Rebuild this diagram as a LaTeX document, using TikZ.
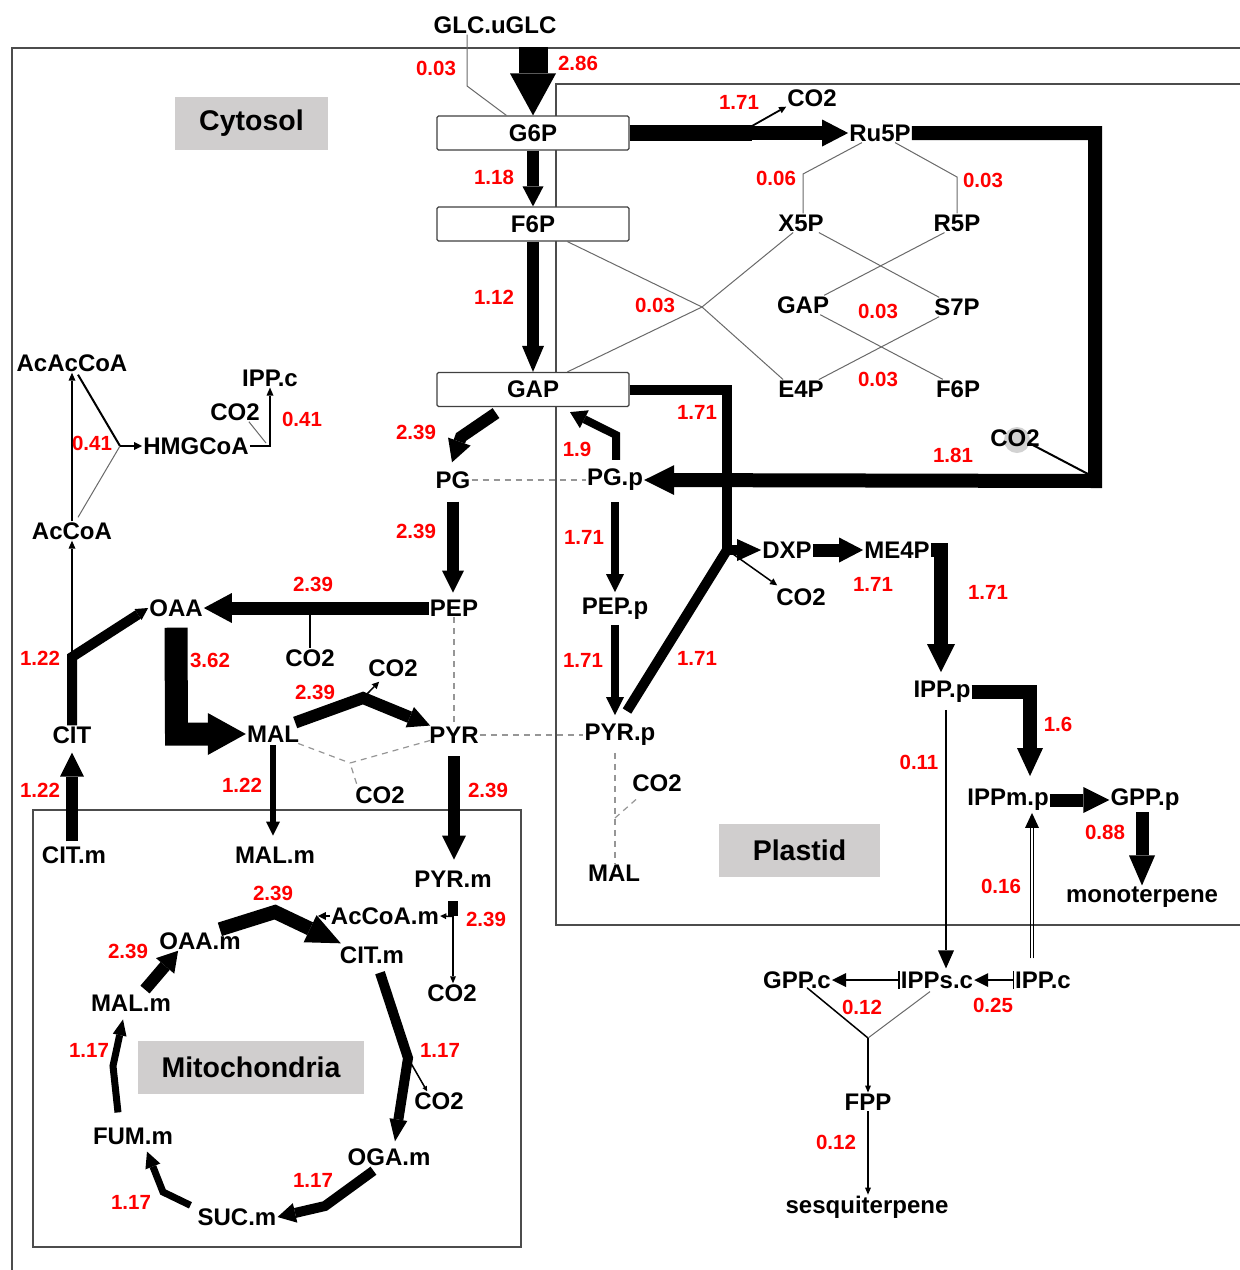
\documentclass[tikz,border=0pt]{standalone}
\usepackage{fontspec}
\setmainfont{Liberation Sans}
\usetikzlibrary{arrows.meta,calc}
\definecolor{boxgray}{RGB}{208,206,206}
\definecolor{numred}{RGB}{255,0,0}
\definecolor{thingray}{RGB}{105,105,105}
\definecolor{dashgray}{RGB}{150,150,150}
\begin{document}
\begin{tikzpicture}[x=1pt,y=-1pt,
  met/.style={font=\fontsize{24}{28}\selectfont\bfseries, inner sep=1pt},
  num/.style={font=\fontsize{20.5}{24}\selectfont\bfseries, text=numred, inner sep=0pt},
  comp/.style={fill=boxgray, font=\fontsize{28.5}{32}\selectfont\bfseries, inner sep=0pt},
  mbox/.style={met, draw=black!75, line width=1.2pt, fill=white, minimum width=192pt, minimum height=34pt, rounded corners=1.5pt},
  thinl/.style={draw=thingray, line width=1pt},
  dsh/.style={draw=dashgray, line width=1.2pt, dash pattern=on 6pt off 5pt},
  border/.style={draw=black!70, line width=1.2pt},
  tip/.style n args={2}{-{Triangle[length=#1,width=#2,line width=0pt]}},
  bartip/.style={{Bar[width=18pt,line width=1.5pt]}-{Triangle[length=14pt,width=14pt,line width=0pt]}},
]
\useasboundingbox (0,0) rectangle (1240,1270);
\fill[white] (0,0) rectangle (1240,1270);

% compartments
\draw[border] (12,1270) -- (12,48) -- (1240,48);
\draw[border] (1240,84) -- (556,84) -- (556,925) -- (1240,925);
\draw[border] (33,810) rectangle (521,1247);
\node[comp, minimum width=153pt, minimum height=53pt] (lcyto) at (251.5,123.5) {Cytosol};
\node[comp, minimum width=161pt, minimum height=53pt] (lplast) at (799.5,850.5) {Plastid};
\node[comp, minimum width=226pt, minimum height=53pt] (lmito) at (251,1067.5) {Mitochondria};

% boxes
\node[mbox] (g6p) at (533,133) {G6P};
\node[mbox] (f6p) at (533,224) {F6P};
\node[mbox] (gap) at (533,389.5) {GAP};

% metabolites
\node[met] (glc) at (495,25) {GLC.uGLC};
\node[met] (co2a) at (812,98) {CO2};
\node[met] (ru5p) at (880,133) {Ru5P};
\node[met] (x5p) at (801,223) {X5P};
\node[met] (r5p) at (957,223) {R5P};
\node[met] (gap2) at (803,305) {GAP};
\node[met] (s7p) at (957,307) {S7P};
\node[met] (e4p) at (801,389) {E4P};
\node[met] (f6p2) at (958,389) {F6P};
\fill[gray!35] (1017,440) circle (13pt);
\node[met] (co2b) at (1015,438) {CO2};
\node[met] (pg) at (453,480) {PG};
\node[met] (pgp) at (615,480) {PG.p};
\node[met] (dxp) at (787,550) {DXP};
\node[met] (me4p) at (897,550) {ME4P};
\node[met] (co2c) at (801,597) {CO2};
\node[met] (pep) at (454,608) {PEP};
\node[met] (pepp) at (615,609) {PEP.p};
\node[met] (oaa) at (176,608) {OAA};
\node[met] (co2d) at (310,658) {CO2};
\node[met] (cit) at (72,735) {CIT};
\node[met] (mal) at (273,734) {MAL};
\node[met] (pyr) at (454,735) {PYR};
\node[met] (pyrp) at (620,735) {PYR.p};
\node[met] (co2e) at (393,668) {CO2};
\node[met] (co2f) at (380,795) {CO2};
\node[met] (co2g) at (657,783) {CO2};
\node[met] (malp) at (614,873) {MAL};
\node[met] (ippp) at (942,692) {IPP.p};
\node[met] (ippmp) at (1008,800) {IPPm.p};
\node[met] (gppp) at (1145,800) {GPP.p};
\node[met] (mono) at (1142,897) {monoterpene};
\node[met] (acac) at (72,363) {AcAcCoA};
\node[met] (ippc1) at (270,378) {IPP.c};
\node[met] (co2h) at (235,412) {CO2};
\node[met] (hmg) at (196,446) {HMGCoA};
\node[met] (accoa) at (72,531) {AcCoA};
\node[met] (citm) at (74,855) {CIT.m};
\node[met] (malm) at (275,855) {MAL.m};
\node[met] (pyrm) at (453,879) {PYR.m};
\node[met] (accoam) at (385,916) {AcCoA.m};
\node[met] (citm2) at (372,955) {CIT.m};
\node[met] (oaam) at (200,941) {OAA.m};
\node[met] (co2i) at (452,993) {CO2};
\node[met] (malm2) at (131,1003) {MAL.m};
\node[met] (co2j) at (439,1101) {CO2};
\node[met] (fumm) at (133,1136) {FUM.m};
\node[met] (ogam) at (389,1157) {OGA.m};
\node[met] (sucm) at (237,1217) {SUC.m};
\node[met] (gppc) at (797,980) {GPP.c};
\node[met] (ippsc) at (937,980) {IPPs.c};
\node[met] (ippc2) at (1043,980) {IPP.c};
\node[met] (fpp) at (868,1102) {FPP};
\node[met] (sesq) at (867,1207) {sesquiterpene};

% ---------- connectors ----------
% glucose uptake
\coordinate (glcin) at (533,47);
\draw[line width=29pt, tip={42pt}{46pt}] (glcin) -- (g6p.north);
\coordinate (glcb) at (467,86);
\draw[thinl] ($(glc.south)+(-28,0)$) -- (glcb) -- ($(g6p.north west)+(70,0)$);

% G6P -> Ru5P
\coordinate (ppj) at (752,133);
\draw[line width=16pt] (g6p.east) -- (ppj);
\draw[line width=14pt, tip={26pt}{27pt}] (ppj) -- (ru5p.west);
\draw[line width=1.8pt, tip={7pt}{7pt}] ($(ppj)+(0,-7)$) -- ($(co2a.south west)+(0,-1)$);

% Ru5P loop to PG.p
\draw[line width=14pt, tip={30pt}{30pt}] (ru5p.east) -- (1095,133) -- (1095,481) -- (pgp.east);
\draw[line width=2pt] ($(co2b.east)+(-10,6)$) -- (1088,474);

% glycolysis upper
\draw[line width=12pt, tip={20pt}{21pt}] (g6p.south) -- (f6p.north);
\draw[line width=12pt, tip={26pt}{22pt}] (f6p.south) -- (gap.north);

% pentose phosphate thin lines
\coordinate (b1) at (803,174);
\coordinate (b2) at (957,177);
\draw[thinl] ($(ru5p.south)+(-18,0)$) -- (b1) -- (b1 |- x5p.north);
\draw[thinl] ($(ru5p.south)+(15,0)$) -- (b2) -- (b2 |- r5p.north);
\draw[thinl] ($(x5p.south east)+(-6,0)$) -- ($(s7p.north west)+(6,0)$);
\draw[thinl] ($(r5p.south west)+(12,0)$) -- ($(gap2.north east)+(-6,0)$);
\draw[thinl] ($(gap2.south east)+(-10,0)$) -- ($(f6p2.north west)+(8,0)$);
\draw[thinl] ($(s7p.south west)+(6,0)$) -- ($(e4p.north east)+(-6,0)$);
\coordinate (tk) at (702,307);
\draw[thinl] ($(f6p.south west)+(131,0)$) -- (tk) -- ($(e4p.north west)+(6,0)$);
\draw[thinl] ($(gap.north west)+(131,0)$) -- (tk) -- ($(x5p.south west)+(16,0)$);

% GAP / PYR.p -> DXP
\coordinate (dj) at (727,550);
\draw[line width=10pt, tip={24pt}{22pt}] (gap.east) -- (727,389.5) -- (dj) -- (dxp.west);
\draw[line width=10pt] ($(pyrp.north)+(7,-12)$) -- (dj);
\draw[line width=1.5pt, tip={7pt}{7pt}] ($(dj)+(6,4)$) -- ($(co2c.north west)+(2,-2)$);

% MEP pathway
\draw[line width=13pt, tip={24pt}{25pt}] (dxp.east) -- (me4p.west);
\coordinate (mi) at (941,550);
\draw[line width=14pt, tip={28pt}{28pt}] (me4p.east) -- (mi) -- ($(mi |- ippp.north)+(0,-8)$);
\coordinate (ip) at (1030,692);
\draw[line width=14pt, tip={28pt}{26pt}] (ippp.east) -- (ip) -- ($(ip |- ippmp.north)+(0,-12)$);
\draw[line width=13pt, tip={26pt}{26pt}] (ippmp.east) -- (gppp.west);
\draw[line width=13pt, tip={30pt}{26pt}] ($(gppp.south)+(-3,0)$) -- (mono.north);
\draw[line width=1.5pt, tip={18pt}{16pt}] ($(ippp.south)+(4,6)$) -- ($(ippsc.north)+(9,-2)$);

% IPP.c -> IPPm.p (double line)
\draw[line width=0.9pt] ($(ippc2.north)+(-12.5,-12)$) -- ($(ippmp.south)+(22.5,14)$);
\draw[line width=0.9pt] ($(ippc2.north)+(-9.5,-12)$) -- ($(ippmp.south)+(25.5,14)$);
\draw[line width=0.9pt, tip={15pt}{14pt}] ($(ippmp.south)+(24,16)$) -- ($(ippmp.south)+(24,1)$);

% cytosolic prenyl
\draw[line width=1.5pt, bartip] (ippsc.west) -- (gppc.east);
\draw[line width=1.5pt, bartip] (ippc2.west) -- (ippsc.east);
\coordinate (fj) at (868,1038);
\draw[line width=1.5pt] ($(gppc.south)+(10,-2)$) -- (fj);
\draw[thinl] ($(ippsc.south)+(-7,2)$) -- (fj);
\draw[line width=1.5pt, tip={7pt}{6pt}] (fj) -- (fpp.north);
\draw[line width=1.5pt, tip={7pt}{6pt}] (fpp.south) -- (fpp.south |- sesq.north);

% MVA pathway
\draw[line width=1.5pt, tip={8pt}{7pt}] (accoa.north) -- (acac.south);
\coordinate (hj) at (120,446);
\draw[line width=2pt] ($(acac.south)+(6,2)$) -- (hj);
\draw[thinl] ($(accoa.north)+(6,-4)$) -- (hj);
\draw[line width=2pt, tip={8pt}{8pt}] (hj) -- (hmg.west);
\draw[line width=2pt, tip={8pt}{7pt}] (hmg.east) -- (hmg.east -| ippc1.south) -- (ippc1.south);
\draw[thinl] ($(hmg.east -| ippc1.south)+(-4,-3)$) -- ($(co2h.south east)+(-12,0)$);

% CIT -> AcCoA / OAA
\coordinate (cj) at (72,657);
\draw[line width=1.5pt, tip={8pt}{7pt}] (cj) -- (accoa.south);
\draw[line width=10pt, tip={12pt}{13pt}] (cit.north) -- (cj) -- (oaa.west);

% PEP -> OAA
\draw[line width=13pt, tip={28pt}{30pt}] (pep.west) -- (oaa.east);
\draw[line width=2pt] (co2d.north |- pep.west) -- (co2d.north);

% OAA -> MAL
\coordinate (om) at (176.5,734);
\draw[line width=23pt, tip={38pt}{42pt}] ($(oaa.south)+(0,10)$) -- (om) -- (mal.west);

% MAL -> PYR
\coordinate (mp) at (363,698);
\draw[line width=12pt, tip={22pt}{22pt}] ($(mal.north east)+(-5,-2)$) -- (mp) -- ($(pyr.north west)+(2,0)$);
\draw[line width=1.5pt, tip={7pt}{7pt}] (mp) -- ($(co2e.south west)+(12,4)$);

% dashed connections
\coordinate (mj) at (350,763);
\draw[dsh] ($(mal.south east)+(-2,0)$) -- (mj);
\draw[dsh] ($(pyr.south west)+(2,-4)$) -- (mj) -- ($(co2f.north west)+(3,0)$);
\draw[dsh] (pep.south) -- (pyr.north);
\draw[dsh] (pg.east) -- (pgp.west);
\draw[dsh] (pyr.east) -- (pyrp.west);
\coordinate (pj) at (615,818);
\draw[dsh] ($(pyrp.south)+(-5,6)$) -- (pj) -- (pj |- malp.north);
\draw[dsh] (pj) -- ($(co2g.south west)+(8,4)$);

% glycolysis lower
\draw[line width=12pt, tip={22pt}{24pt}] ($(gap.south)+(-37,6)$) -- (461,437) -- ($(pg.north)+(-1,-8)$);
\draw[line width=12pt, tip={22pt}{22pt}] ($(pg.south)+(0,12)$) -- ($(pg.south |- pep.north)+(0,-6)$);
\draw[line width=8pt, tip={16pt}{20pt}] ($(pgp.north)+(1,-8)$) -- (616,435) -- ($(gap.south)+(37,5)$);
\draw[line width=8pt, tip={18pt}{18pt}] ($(pgp.south)+(0,10)$) -- ($(pepp.north)+(0,-5)$);
\draw[line width=8pt, tip={18pt}{18pt}] ($(pepp.south)+(0,4)$) -- ($(pepp.south |- pyrp.north)+(0,-8)$);

% transport to mitochondria
\draw[line width=12pt, tip={24pt}{24pt}] ($(pyr.south)+(0,12)$) -- ($(pyr.south |- pyrm.north)+(0,-10)$);
\draw[line width=6pt, tip={14pt}{14pt}] ($(mal.south)+(0,2)$) -- ($(mal.south |- malm.north)+(0,-10)$);
\draw[line width=12pt, tip={24pt}{24pt}] ($(cit.south |- citm.north)+(0,-4)$) -- ($(cit.south)+(0,8)$);

% mitochondria
\coordinate (pmj) at ($(pyrm.south)+(0,28)$);
\draw[line width=10pt] ($(pyrm.south)+(0,13)$) -- (pmj);
\draw[line width=1.5pt, tip={7pt}{6pt}] (pmj) -- (pmj |- co2i.north);
\draw[line width=1.5pt, tip={6pt}{6pt}] (pmj) -- (accoam.east);
\coordinate (oc) at (275,912);
\draw[line width=14pt, tip={34pt}{30pt}] ($(oaam.north east)+(-22,-2)$) -- (oc) -- ($(citm2.north west)+(2,-2)$);
\draw[line width=1.5pt, tip={8pt}{8pt}] (accoam.west) -- ++(-12,0);
\draw[line width=12pt, tip={20pt}{24pt}] ($(malm2.north)+(14,-4)$) -- ($(oaam.south west)+(20,0)$);
\coordinate (co) at (408,1058);
\draw[line width=10pt, tip={22pt}{18pt}] ($(citm2.south)+(8,8)$) -- (co) -- ($(ogam.north)+(6,-6)$);
\draw[line width=1.5pt, tip={5pt}{5pt}] (co) -- ($(co2j.north west)+(14,0)$);
\coordinate (os) at (325,1206);
\draw[line width=10pt, tip={18pt}{20pt}] ($(ogam.south west)+(27,4)$) -- (os) -- (sucm.east);
\coordinate (sf) at (163,1192);
\draw[line width=7pt, tip={16pt}{16pt}] ($(sucm.north west)+(-6,-2)$) -- (sf) -- ($(fumm.south)+(14,6)$);
\coordinate (fm) at (113,1066);
\draw[line width=7pt, tip={16pt}{14pt}] ($(fumm.north)+(-15,-14)$) -- (fm) -- ($(malm2.south)+(-8,7)$);

% ---------- flux values ----------
\node[num] (v1) at (436,68) {0.03};
\node[num] (v2) at (578,63) {2.86};
\node[num] (v3) at (739,102) {1.71};
\node[num] (v4) at (494,177) {1.18};
\node[num] (v5) at (776,178) {0.06};
\node[num] (v6) at (983,180) {0.03};
\node[num] (v7) at (494,297) {1.12};
\node[num] (v8) at (655,305) {0.03};
\node[num] (v9) at (878,311) {0.03};
\node[num] (v10) at (878,379) {0.03};
\node[num] (v11) at (697,412) {1.71};
\node[num] (v12) at (416,432) {2.39};
\node[num] (v13) at (577,449) {1.9};
\node[num] (v14) at (953,455) {1.81};
\node[num] (v15) at (416,531) {2.39};
\node[num] (v16) at (584,537) {1.71};
\node[num] (v17) at (873,584) {1.71};
\node[num] (v18) at (988,592) {1.71};
\node[num] (v19) at (313,584) {2.39};
\node[num] (v20) at (40,658) {1.22};
\node[num] (v21) at (210,660) {3.62};
\node[num] (v22) at (583,660) {1.71};
\node[num] (v23) at (697,658) {1.71};
\node[num] (v24) at (315,692) {2.39};
\node[num] (v25) at (1058,724) {1.6};
\node[num] (v26) at (919,762) {0.11};
\node[num] (v27) at (40,790) {1.22};
\node[num] (v28) at (242,785) {1.22};
\node[num] (v29) at (488,790) {2.39};
\node[num] (v30) at (1105,832) {0.88};
\node[num] (v31) at (1001,886) {0.16};
\node[num] (v32) at (273,893) {2.39};
\node[num] (v33) at (486,919) {2.39};
\node[num] (v34) at (128,951) {2.39};
\node[num] (v35) at (862,1007) {0.12};
\node[num] (v36) at (993,1005) {0.25};
\node[num] (v37) at (89,1050) {1.17};
\node[num] (v38) at (440,1050) {1.17};
\node[num] (v39) at (313,1180) {1.17};
\node[num] (v40) at (131,1202) {1.17};
\node[num] (v41) at (836,1142) {0.12};
\node[num] (v42) at (92,443) {0.41};
\node[num] (v43) at (302,419) {0.41};
\end{tikzpicture}
\end{document}
